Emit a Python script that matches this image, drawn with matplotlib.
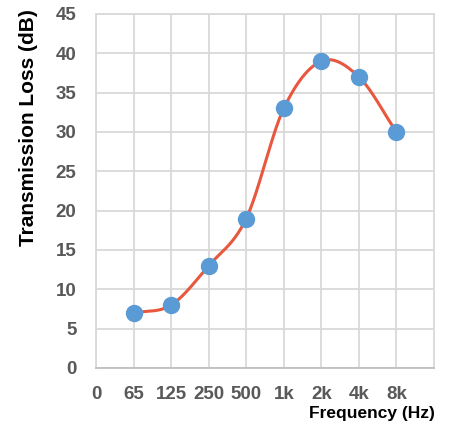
import matplotlib.pyplot as plt
import numpy as np

freq_labels = ['0', '65', '125', '250', '500', '1k', '2k', '4k', '8k']
point_pos = [1, 2, 3, 4, 5, 6, 7, 8]
loss_db = [7, 8, 13, 19, 33, 39, 37, 30]


def catmull_rom(xs, ys, n=40):
    # smoothed line like a spreadsheet "smooth line" option
    xs = np.asarray(xs, float)
    ys = np.asarray(ys, float)
    px = np.concatenate([[2 * xs[0] - xs[1]], xs, [2 * xs[-1] - xs[-2]]])
    py = np.concatenate([[2 * ys[0] - ys[1]], ys, [2 * ys[-1] - ys[-2]]])
    out_x, out_y = [], []
    t = np.linspace(0, 1, n)
    for i in range(1, len(px) - 2):
        for arr, out in ((px, out_x), (py, out_y)):
            p0, p1, p2, p3 = arr[i - 1], arr[i], arr[i + 1], arr[i + 2]
            m1 = (p2 - p0) / 2
            m2 = (p3 - p1) / 2
            h00 = 2 * t**3 - 3 * t**2 + 1
            h10 = t**3 - 2 * t**2 + t
            h01 = -2 * t**3 + 3 * t**2
            h11 = t**3 - t**2
            out.extend(h00 * p1 + h10 * m1 + h01 * p2 + h11 * m2)
    return np.array(out_x), np.array(out_y)


plt.rcParams['font.family'] = ['Liberation Sans', 'DejaVu Sans']
fig = plt.figure(figsize=(4.49, 4.28), dpi=100)
ax = fig.add_axes([0.2138, 0.1402, 0.7528, 0.8271])

sx, sy = catmull_rom(point_pos, loss_db)
ax.plot(sx, sy, color='#E8583F', lw=2.2, zorder=3)
ax.plot(point_pos, loss_db, 'o', color='#5B9BD5', ms=11.5, zorder=4)

ax.set_xlim(0, 9)
ax.set_ylim(0, 45)
ax.set_yticks(range(0, 50, 5))
ax.set_xticks(range(0, 9))
ax.set_xticklabels(freq_labels)
ax.grid(True, color='#D9D9D9', lw=1.3)
ax.set_axisbelow(True)
for s in ['top', 'right', 'left']:
    ax.spines[s].set_color('#D9D9D9')
    ax.spines[s].set_linewidth(1.3)
ax.spines['bottom'].set_color('#BFBFBF')
ax.spines['bottom'].set_linewidth(1.3)
ax.tick_params(length=0, labelcolor='#595959', labelsize=13.5)
ax.tick_params(axis='y', pad=14)
ax.tick_params(axis='x', pad=13)
for lbl in ax.get_xticklabels() + ax.get_yticklabels():
    lbl.set_fontweight('bold')

fig.text(0.064, 0.703, 'Transmission Loss (dB)', rotation=90, ha='center', va='center',
         fontsize=15, fontweight='bold')
fig.text(0.968, 0.033, 'Frequency (Hz)', ha='right', va='center',
         fontsize=12.5, fontweight='bold', fontstretch='condensed')

fig.savefig('out.png', dpi=100)
